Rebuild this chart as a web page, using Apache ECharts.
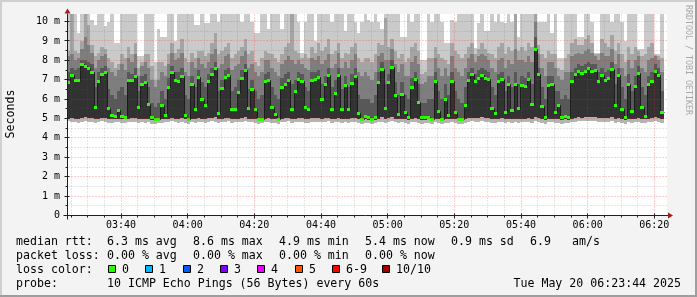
<!DOCTYPE html>
<html><head><meta charset="utf-8">
<script src="https://cdn.jsdelivr.net/npm/echarts@6/dist/echarts.min.js"></script>
<style>html,body{margin:0;padding:0;background:#f3f3f3;overflow:hidden}#c{width:697px;height:297px}</style>
</head><body><div id="c"></div>
<script>
// time axis in minutes after 03:00; one column per minute
const startMinute = 23.8;      // 03:23:48
const columnCount = 180;

// median RTT per minute (ms)
const median = [
6.87,7.25,7.0,7.0,7.8,7.7,7.6,7.4,5.6,6.95,7.3,7.4,5.55,5.2,5.15,5.45,5.15,5.1,7.0,7.0,7.2,5.6,6.8,6.9,5.75,5.1,5.0,5.0,5.7,5.2,
6.6,7.4,7.0,6.95,7.2,5.2,5.0,6.8,5.5,7.15,6.0,5.7,6.95,7.3,7.6,5.3,6.55,7.15,7.25,5.5,5.5,6.35,7.1,7.5,5.55,6.5,5.5,5.0,5.0,6.95,
7.0,5.6,5.25,5.0,6.6,6.8,7.0,5.5,6.4,7.05,6.95,5.6,5.5,7.0,7.05,7.15,6.0,6.8,7.25,5.5,6.3,7.25,5.5,6.75,5.5,6.85,7.2,5.3,5.0,5.15,
5.1,5.0,5.1,6.9,7.55,5.55,6.9,7.65,6.2,5.25,6.25,5.35,5.1,6.6,7.05,5.85,5.1,5.1,5.1,5.0,6.95,5.4,5.0,6.0,5.2,6.95,5.35,5.0,4.95,5.7,
7.0,7.3,6.95,7.1,7.25,7.1,7.05,5.55,5.3,6.95,7.05,5.35,6.8,5.45,6.8,5.55,6.75,6.7,7.05,5.75,8.6,7.3,5.65,5.1,6.75,6.8,5.35,5.7,5.1,5.15,
5.1,6.95,7.3,7.45,7.35,7.45,7.6,7.45,7.5,6.95,7.25,7.0,7.1,7.55,5.7,7.25,5.5,5.1,6.8,5.4,6.7,7.35,5.6,5.15,6.8,6.95,7.45,7.25,5.35,null];

// smoke: lowest ping
const pMin = [
4.85,4.8,4.82,4.78,4.8,4.85,4.83,4.8,4.78,4.82,4.85,4.8,4.76,4.78,4.8,4.82,4.75,4.78,4.8,4.84,4.82,4.78,4.8,4.76,4.8,4.74,4.72,4.75,4.78,4.8,
4.82,4.85,4.8,4.78,4.83,4.76,4.74,4.8,4.78,4.82,4.8,4.78,4.84,4.86,4.82,4.76,4.8,4.83,4.85,4.78,4.8,4.82,4.84,4.86,4.8,4.82,4.78,4.74,4.75,4.8,
4.82,4.78,4.76,4.74,4.8,4.82,4.85,4.78,4.8,4.83,4.82,4.78,4.76,4.82,4.84,4.83,4.8,4.82,4.85,4.78,4.8,4.84,4.78,4.8,4.77,4.82,4.84,4.76,4.74,4.76,
4.75,4.72,4.75,4.8,4.84,4.78,4.82,4.86,4.8,4.76,4.8,4.77,4.74,4.8,4.83,4.78,4.74,4.75,4.76,4.72,4.8,4.76,4.73,4.78,4.75,4.8,4.76,4.73,4.72,4.78,
4.82,4.85,4.82,4.83,4.86,4.84,4.82,4.78,4.76,4.8,4.83,4.77,4.8,4.78,4.8,4.78,4.8,4.8,4.83,4.78,4.86,4.84,4.78,4.74,4.8,4.8,4.76,4.78,4.74,4.75,
4.75,4.8,4.84,4.86,4.85,4.86,4.88,4.86,4.86,4.82,4.84,4.82,4.83,4.86,4.78,4.83,4.77,4.74,4.8,4.76,4.8,4.84,4.78,4.75,4.8,4.82,4.86,4.84,4.77,null];

// smoke: lower pings (bottom of the dark core)
const pLow = [
5.0,5.02,5.0,4.98,5.05,5.08,5.05,5.02,4.98,5.0,5.03,5.02,4.97,4.96,4.98,5.0,4.95,4.96,5.0,5.02,5.03,4.97,5.0,4.98,4.98,4.94,4.92,4.93,4.97,4.96,
5.0,5.04,5.0,4.98,5.03,4.95,4.93,5.0,4.97,5.02,5.0,4.98,5.02,5.05,5.06,4.96,5.0,5.03,5.05,4.97,4.98,5.0,5.04,5.06,4.98,5.0,4.97,4.93,4.94,5.0,
5.02,4.98,4.96,4.93,5.0,5.02,5.04,4.97,5.0,5.03,5.02,4.98,4.96,5.02,5.04,5.03,5.0,5.02,5.05,4.97,5.0,5.04,4.97,5.0,4.96,5.02,5.04,4.96,4.93,4.95,
4.94,4.92,4.94,5.0,5.06,4.98,5.02,5.06,5.0,4.96,5.0,4.96,4.94,5.0,5.03,4.98,4.94,4.94,4.95,4.92,5.0,4.96,4.92,4.98,4.95,5.0,4.96,4.92,4.9,4.98,
5.02,5.05,5.02,5.03,5.06,5.04,5.02,4.98,4.96,5.0,5.03,4.96,5.0,4.97,5.0,4.98,5.0,5.0,5.03,4.98,5.08,5.05,4.98,4.94,5.0,5.0,4.96,4.98,4.94,4.95,
4.94,5.0,5.04,5.06,5.05,5.06,5.08,5.06,5.06,5.02,5.04,5.02,5.03,5.06,4.98,5.03,4.97,4.94,5.0,4.96,5.0,5.04,4.98,4.95,5.0,5.02,5.06,5.04,4.97,null];

// smoke: upper pings (top of each grey band above the median)
const pMid = [
7.4,7.6,7.5,7.6,8.0,8.0,7.9,7.8,6.6,7.4,7.6,7.7,6.5,6.2,6.0,6.4,6.6,6.2,7.4,7.3,7.6,6.4,7.2,7.3,6.6,5.8,5.6,5.8,6.4,6.0,
7.1,7.7,7.4,7.4,7.6,6.2,6.0,7.2,6.6,7.5,6.9,6.6,7.3,7.6,7.9,6.4,7.0,7.5,7.6,6.4,6.6,7.0,7.5,7.8,6.5,7.0,6.4,6.0,6.2,7.3,
7.4,6.6,6.2,6.0,7.1,7.3,7.4,6.8,7.0,7.4,7.3,6.6,6.4,7.4,7.4,7.5,6.8,7.2,7.6,6.6,7.0,7.6,6.5,7.2,6.6,7.3,7.6,6.2,6.0,6.0,
6.0,5.8,6.2,7.4,7.9,6.8,7.3,8.0,6.9,6.2,6.9,6.2,6.0,7.1,7.4,6.8,5.8,5.8,6.0,6.0,7.4,6.4,6.0,6.8,6.2,7.4,6.4,6.0,5.8,6.6,
7.4,7.6,7.3,7.5,7.6,7.5,7.4,6.6,6.2,7.3,7.4,6.4,7.2,6.6,7.4,6.8,7.2,7.1,7.4,6.8,9.2,7.6,6.6,6.0,7.2,7.2,6.4,6.4,6.0,6.2,
6.0,7.4,7.6,7.8,7.7,7.8,7.9,7.8,7.8,7.4,7.6,7.4,7.5,7.9,6.8,7.6,6.6,6.0,7.3,6.4,7.2,7.7,6.6,6.2,7.2,7.4,7.8,7.6,6.4,null];
const pUp = [
8.2,8.3,8.0,8.1,8.6,9.2,8.8,8.4,7.6,8.0,8.2,8.3,7.6,7.4,7.2,7.5,7.8,7.5,8.1,7.9,8.3,7.2,7.7,7.9,7.6,7.0,6.6,7.0,7.4,7.2,
7.8,8.4,8.0,8.1,8.4,7.4,7.2,7.9,7.6,8.1,7.8,7.6,7.9,8.3,8.6,7.6,7.8,8.2,8.3,7.5,7.7,7.8,8.2,8.5,7.6,7.8,7.4,7.2,7.4,8.0,
8.0,7.6,7.4,7.2,7.8,8.0,8.2,8.0,7.8,8.0,7.8,7.6,7.5,8.1,8.0,8.2,7.8,8.0,8.3,7.6,7.8,8.4,7.6,7.9,7.6,8.0,8.3,7.4,7.2,7.4,
7.2,7.0,7.4,8.2,8.4,8.0,8.0,8.6,7.8,7.4,7.8,7.2,7.2,7.9,8.2,7.8,6.8,6.9,7.2,7.2,8.1,7.6,7.2,7.6,7.2,8.2,7.6,7.4,7.2,7.6,
8.1,8.3,7.9,8.2,8.3,8.2,8.0,7.6,7.4,8.0,8.1,7.6,8.0,7.8,8.6,8.0,8.0,7.9,8.2,7.9,10.0,8.3,7.6,7.2,7.9,7.9,7.6,7.2,7.0,7.4,
7.4,8.2,8.3,8.4,8.3,8.5,8.6,8.4,8.2,8.0,8.4,8.2,8.2,8.6,7.8,8.3,7.6,7.2,8.0,7.6,8.0,8.2,7.6,7.4,8.0,8.1,8.2,8.0,7.4,null];
const pTop = [
8.5,10.4,8.5,8.4,9.0,10.4,9.8,8.8,8.2,8.4,8.7,8.6,8.1,7.9,7.6,7.8,8.3,8.1,8.7,8.3,8.9,7.6,7.9,8.3,8.3,7.7,7.0,7.9,7.9,7.7,
8.3,8.9,8.4,8.6,9.1,8.1,7.9,8.4,8.1,8.5,8.5,8.2,8.4,8.9,9.4,8.3,8.5,8.7,8.9,8.1,8.3,8.5,8.7,9.1,8.3,8.5,7.9,7.7,8.1,8.5,
8.4,8.3,8.1,7.9,8.3,8.7,8.9,10.4,8.5,8.4,8.1,8.3,8.1,8.7,8.4,8.9,8.5,8.7,9.1,8.3,8.5,8.9,8.1,8.4,8.3,8.7,8.9,8.1,7.9,8.1,
8.1,7.9,8.3,8.9,8.8,10.2,8.7,9.1,8.5,8.1,8.3,7.9,8.1,8.7,8.9,8.5,7.3,7.4,8.1,8.1,8.7,8.3,8.1,8.0,7.8,8.9,8.5,8.3,8.1,8.3,
8.7,8.9,8.3,8.6,8.9,8.6,8.4,8.3,8.1,8.7,8.9,8.3,8.7,8.5,10.4,8.5,8.7,8.5,8.9,8.7,10.4,8.8,8.3,8.1,8.5,8.3,8.3,7.6,7.5,8.1,
8.3,8.9,9.1,8.8,8.8,9.1,9.3,8.9,8.3,8.3,9.1,8.9,8.7,9.3,8.5,8.9,8.3,7.9,8.7,8.3,8.7,8.5,8.2,8.3,8.7,8.9,8.25,8.2,8.1,null];
// highest ping (values above the axis top are clipped)
const pMax = [
11,11,11,9.4,11,11,11,10.1,9.8,11,11,9.75,10.0,11,8.9,8.9,11,11,11,11,11,8.2,8.2,11,11,11,7.9,9.6,9.2,9.2,
11,11,9.0,11,11,11,11,11,9.8,9.8,11,9.9,9.9,11,11,10.0,11,11,11,11,11,11,10.0,11,11,10.0,9.4,9.4,11,11,
9.6,11,11,11,9.6,11,11,11,11,10.0,8.4,10.0,11,11,9.0,11,11,11,11,10.0,11,11,11,9.5,11,11,10.0,9.4,10.0,11,
10.1,10.0,11,10.0,9.6,11,11,11,11,11,9.2,9.2,11,10.0,11,11,8.0,8.0,11,10.0,11,11,10.0,8.9,8.9,10.1,10.0,11,11,11,
11,11,8.65,9.9,11,9.5,9.5,11,10.0,11,10.0,9.9,11,10.0,11,9.2,11,11,11,11,11,10.0,10.0,10.0,11,9.4,11,8.1,8.1,11,
11,11,11,9.2,9.2,11,11,10.0,8.4,8.4,11,11,11,10.0,11,11,10.0,9.0,11,11,11,8.6,8.6,11,11,11,8.3,8.3,11,null];

// axis ticks and labels
const xTickValues = [40,60,80,100,120,140,160,180,200];
const xTickLabels = ['03:40','04:00','04:20','04:40','05:00','05:20','05:40','06:00','06:20'];
const yTickValues = [0,1,2,3,4,5,6,7,8,9,10];
const yTickLabels = ['0','1 m','2 m','3 m','4 m','5 m','6 m','7 m','8 m','9 m','10 m'];

// legend texts
const rttLabel = 'median rtt:';
const rttStats = ['6.3 ms avg','8.6 ms max','4.9 ms min','5.4 ms now','0.9 ms sd','6.9','am/s'];
const lossLabel = 'packet loss:';
const lossStats = ['0.00 % avg','0.00 % max','0.00 % min','0.00 % now'];
const colorLabel = 'loss color:';
const lossColors = [['0','#26ff00'],['1','#00b8ff'],['2','#0059ff'],['3','#7e00ff'],['4','#ee00ff'],['5','#ff5500'],['6-9','#ff0000'],['10/10','#a10000']];
const probeLabel = 'probe:';
const probeText = '10 ICMP Echo Pings (56 Bytes) every 60s';
const stampText = 'Tue May 20 06:23:44 2025';
const yAxisName = 'Seconds';
const watermark = 'RRDTOOL / TOBI OETIKER';

// ---------------------------------------------------------------
const xMin = startMinute, xMax = startMinute + columnCount;
const yMax = 10.387;
const smokeColors = ['#b4b4b4','#323232','#585858','#7e7e7e','#a4a4a4','#cacaca'];
const medianLineColor = '#1c1c1c';
const axisColor = '#202020';
const arrowColor = '#a01c1c';
const majorGrid = 'rgba(255,40,40,0.45)';
const minorGrid = 'rgba(90,90,90,0.3)';
const mono = '"DejaVu Sans Mono", monospace';

const smokeData = [];
const medianData = [];
for (let k = 0; k < columnCount; k++) {
  if (pMax[k] == null) continue;
  smokeData.push([xMin + k, xMin + k + 1, pMin[k], pLow[k], median[k], pMid[k], pUp[k], pTop[k], pMax[k]]);
  if (median[k] != null) {
    const prev = (k > 0 && median[k-1] != null) ? median[k-1] : median[k];
    medianData.push([xMin + k, xMin + k + 1, median[k], prev]);
  }
}
const clampY = v => Math.max(0, Math.min(yMax, v));

function renderSmoke(params, api) {
  const x0 = Math.round(api.coord([api.value(0), 0])[0]);
  const x1 = Math.round(api.coord([api.value(1), 0])[0]);
  const b = [];
  for (let i = 2; i <= 8; i++) {
    let v = clampY(api.value(i));
    if (b.length && v < b[b.length - 1]) v = b[b.length - 1];
    b.push(v);
  }
  const children = [];
  for (let i = 0; i < 6; i++) {
    const yb = Math.round(api.coord([xMin, b[i]])[1]);
    const yt = Math.round(api.coord([xMin, b[i + 1]])[1]);
    if (yb - yt <= 0) continue;
    children.push({type: 'rect', shape: {x: x0, y: yt, width: x1 - x0, height: yb - yt}, style: {fill: smokeColors[i]}});
  }
  return {type: 'group', children};
}

function renderMedian(params, api) {
  const x0 = Math.round(api.coord([api.value(0), 0])[0]);
  const x1 = Math.round(api.coord([api.value(1), 0])[0]);
  const ym = Math.round(api.coord([xMin, api.value(2)])[1]);
  const yp = Math.round(api.coord([xMin, api.value(3)])[1]);
  return {type: 'group', children: [
    {type: 'polyline', shape: {points: [[x0 + 0.5, yp + 0.5], [x0 + 0.5, ym + 0.5], [x1 + 0.5, ym + 0.5]]},
     style: {stroke: medianLineColor, lineWidth: 1, fill: null}},
    {type: 'rect', shape: {x: x0, y: ym - 1, width: x1 - x0, height: 3}, style: {fill: lossColors[0][1]}}
  ]};
}

function renderFrame(params, api) {
  const cs = params.coordSys;
  const R = cs.x + cs.width;
  const px = v => Math.floor(api.coord([v, 0])[0]) + 0.5;
  const py = v => Math.floor(api.coord([xMin, v])[1]) + 0.5;
  const ch = [];
  const axX = px(xMin), axY = py(0), topY = py(yMax);
  const dotted = (x1, y1, x2, y2, color) => ({type: 'line', shape: {x1, y1, x2, y2},
    style: {stroke: color, lineWidth: 1, lineDash: [1, 2]}});
  for (let i = 1; i <= Math.floor(yMax * 2); i++) {
    const v = i / 2, y = py(v), major = i % 2 === 0;
    ch.push(dotted(axX + 1, y, R, y, major ? majorGrid : minorGrid));
    ch.push({type: 'line', shape: {x1: axX - (major ? 3 : 2), y1: y, x2: axX + (major ? 2 : 0), y2: y}, style: {stroke: axisColor, lineWidth: 1}});
  }
  for (let m = Math.ceil(xMin / 5) * 5; m <= xMax; m += 5) {
    const x = px(m), major = xTickValues.indexOf(m) >= 0;
    ch.push(dotted(x, topY, x, axY - 1, major ? majorGrid : minorGrid));
    ch.push({type: 'line', shape: {x1: x, y1: axY - (major ? 2 : 0), x2: x, y2: axY + (major ? 3 : 2)}, style: {stroke: axisColor, lineWidth: 1}});
  }
  // axes with arrows
  ch.push({type: 'line', shape: {x1: axX - 4, y1: axY, x2: R + 1, y2: axY}, style: {stroke: axisColor, lineWidth: 1}});
  ch.push({type: 'line', shape: {x1: axX, y1: axY + 4, x2: axX, y2: topY - 1}, style: {stroke: axisColor, lineWidth: 1}});
  ch.push({type: 'polygon', shape: {points: [[R + 1, axY - 3], [R + 6, axY], [R + 1, axY + 3]]}, style: {fill: arrowColor}});
  ch.push({type: 'polygon', shape: {points: [[axX - 3, topY - 1], [axX, topY - 6], [axX + 3, topY - 1]]}, style: {fill: arrowColor}});
  return {type: 'group', children: ch};
}

// legend graphics
const txt = (x, y, text, extra) => Object.assign({type: 'text', x, y, silent: true,
  style: Object.assign({text, font: '11.6px ' + mono, fill: '#000', verticalAlign: 'middle', align: 'left'}, extra || {})});
const rowY = [241.5, 255.5, 269.5, 283.5];
const statX = [107, 193, 279, 365, 451, 530, 572];
const g = [
  {type: 'rect', shape: {x: 0, y: 0, width: 697, height: 2}, style: {fill: '#cfcfcf'}, silent: true},
  {type: 'rect', shape: {x: 0, y: 0, width: 2, height: 297}, style: {fill: '#cfcfcf'}, silent: true},
  {type: 'rect', shape: {x: 0, y: 295, width: 697, height: 2}, style: {fill: '#9e9e9e'}, silent: true},
  {type: 'rect', shape: {x: 695, y: 0, width: 2, height: 297}, style: {fill: '#9e9e9e'}, silent: true},
  txt(16, rowY[0], rttLabel), txt(16, rowY[1], lossLabel), txt(16, rowY[2], colorLabel), txt(16, rowY[3], probeLabel),
  txt(107, rowY[3], probeText),
  txt(681, rowY[3], stampText, {align: 'right'}),
  {type: 'text', x: 11, y: 114, rotation: Math.PI / 2, silent: true,
   style: {text: yAxisName, font: '11.6px ' + mono, fill: '#000', align: 'center', verticalAlign: 'middle'}},
  {type: 'text', x: 688, y: 5, rotation: -Math.PI / 2, silent: true,
   style: {text: watermark, font: '8.3px ' + mono, fill: '#a8a8a8', align: 'left', verticalAlign: 'middle'}}
];
rttStats.forEach((s, i) => g.push(txt(statX[i], rowY[0], s)));
lossStats.forEach((s, i) => g.push(txt(statX[i], rowY[1], s)));
lossColors.forEach((lc, i) => {
  const bx = i < 7 ? Math.round(108 + 37.3 * i) : 382;
  g.push({type: 'rect', silent: true, shape: {x: bx + 0.5, y: 265.5, width: 7, height: 7}, style: {fill: lc[1], stroke: '#000', lineWidth: 1}});
  g.push(txt(bx + 14, rowY[2], lc[0]));
});

const chart = echarts.init(document.getElementById('c'), null, {renderer: 'canvas', width: 697, height: 297});
chart.setOption({
  animation: false,
  backgroundColor: '#f3f3f3',
  grid: {left: 67, top: 14, width: 600, height: 201.5, show: true, backgroundColor: '#ffffff', borderWidth: 0},
  xAxis: {type: 'value', min: xMin, max: xMax,
    axisLine: {show: false}, axisTick: {show: false}, splitLine: {show: false},
    axisLabel: {customValues: xTickValues, formatter: v => { const i = xTickValues.indexOf(v); return i < 0 ? '' : xTickLabels[i]; },
      margin: 5, fontFamily: mono, fontSize: 10, color: '#000'}},
  yAxis: {type: 'value', min: 0, max: yMax, interval: 1,
    axisLine: {show: false}, axisTick: {show: false}, splitLine: {show: false},
    axisLabel: {formatter: v => { const i = yTickValues.indexOf(v); return i < 0 ? '' : yTickLabels[i]; },
      margin: 7, fontFamily: mono, fontSize: 10, color: '#000'}},
  series: [
    {type: 'custom', name: 'smoke', data: smokeData, renderItem: renderSmoke, z: 2, silent: true, clip: true},
    {type: 'custom', name: 'median', data: medianData, renderItem: renderMedian, z: 3, silent: true, clip: true},
    {type: 'custom', name: 'frame', data: [[xMin, 0]], renderItem: renderFrame, z: 4, silent: true, clip: false}
  ],
  graphic: {elements: g}
});
</script>
</body></html>
